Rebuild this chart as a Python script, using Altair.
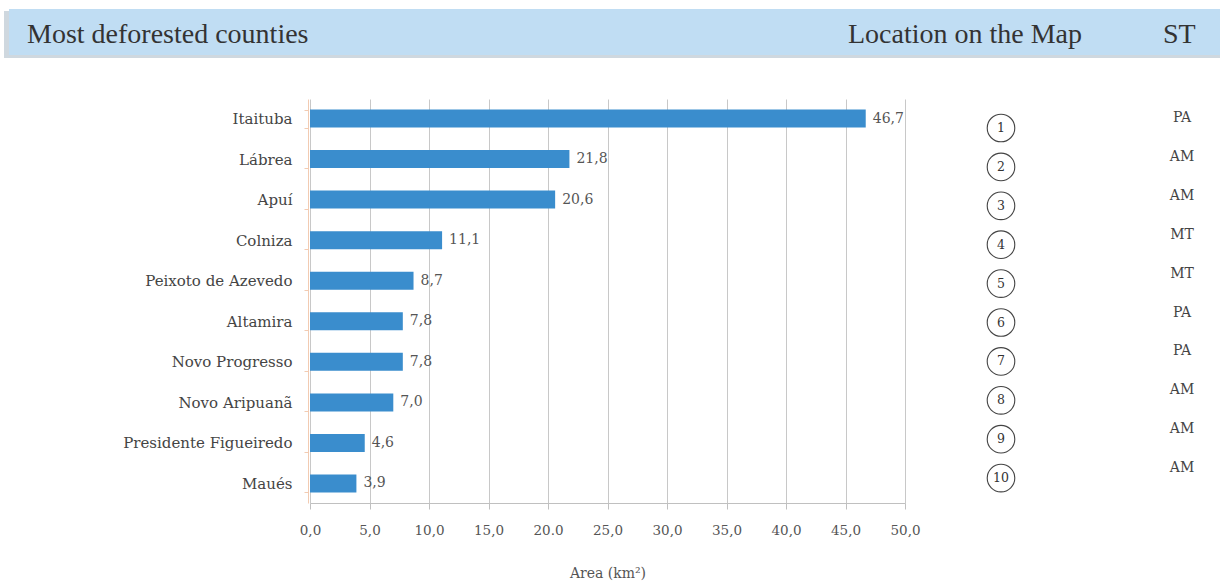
import altair as alt
import pandas as pd

counties = ["Itaituba", "Lábrea", "Apuí", "Colniza", "Peixoto de Azevedo",
            "Altamira", "Novo Progresso", "Novo Aripuanã", "Presidente Figueiredo", "Maués"]
area = [46.7, 21.8, 20.6, 11.1, 8.7, 7.8, 7.8, 7.0, 4.6, 3.9]
map_ids = [1, 2, 3, 4, 5, 6, 7, 8, 9, 10]
states = ["PA", "AM", "AM", "MT", "MT", "PA", "PA", "AM", "AM", "AM"]
x_ticks = [0, 5, 10, 15, 20, 25, 30, 35, 40, 45, 50]

title_text = "Most deforested counties"
col_map = "Location on the Map"
col_st = "ST"
x_title = "Area (km²)"

df = pd.DataFrame({"county": counties, "area": area, "id": map_ids, "st": states})
one = pd.DataFrame({"k": [0]})

SERIF = "DejaVu Serif"
HEAD = "Liberation Serif"

base = alt.Chart(df)

bars = base.mark_bar(color="#3a8dcd").encode(
    x=alt.X("area:Q",
            scale=alt.Scale(domain=[0, 50], nice=False),
            axis=alt.Axis(values=x_ticks,
                          labelExpr="datum.value == 20 ? '20.0' : replace(format(datum.value, '.1f'), '.', ',')",
                          grid=True, gridColor="#c8c8c8", gridWidth=1,
                          domainColor="#c0c0c0", tickColor="#c0c0c0", tickSize=6,
                          labelFlush=False,
                          labelFont=SERIF, labelFontSize=13.5, labelColor="#555555",
                          labelPadding=14,
                          title=x_title, titleFont=SERIF, titleFontSize=14,
                          titleFontWeight="normal", titleColor="#555555", titlePadding=30)),
    y=alt.Y("county:N", sort=counties,
            scale=alt.Scale(paddingInner=0.556, paddingOuter=0.259),
            axis=alt.Axis(title=None, grid=False, offset=2,
                          domainColor="#f2cbb2", tickColor="#f2cbb2", tickSize=4,
                          tickBand="extent",
                          labelFont=SERIF, labelFontSize=15, labelColor="#444444",
                          labelPadding=12)),
)

values = base.transform_calculate(
    lab="replace(format(datum.area, '.1f'), '.', ',')"
).mark_text(align="left", baseline="middle", dx=7, font=SERIF, fontSize=14,
            color="#555555").encode(
    x="area:Q",
    y=alt.Y("county:N", sort=counties),
    text="lab:N",
)

main = alt.layer(bars, values)

side_y = alt.Y("id:Q", scale=alt.Scale(domain=[0.2545, 10.64], reverse=True, nice=False, zero=False),
               axis=None)

circles = base.mark_point(shape="circle", filled=False, size=760, stroke="#444444",
                          strokeWidth=1.1, opacity=1).encode(
    x=alt.value(691), y=side_y)
circle_nums = base.mark_text(font=SERIF, fontSize=12.5, color="#333333",
                             baseline="middle").encode(
    x=alt.value(691), y=side_y, text="id:N")
st_text = base.mark_text(font=SERIF, fontSize=14, color="#444444", baseline="middle",
                         dy=-10).encode(
    x=alt.value(872), y=side_y, text="st:N")

side = alt.layer(circles, circle_nums, st_text)

hb = alt.Chart(one)
shadow = hb.mark_rect(color="#cfd8df").encode(
    x=alt.value(-306), x2=alt.value(910), y=alt.value(-88), y2=alt.value(-41))
band = hb.mark_rect(color="#c0ddf3").encode(
    x=alt.value(-301), x2=alt.value(910), y=alt.value(-90), y2=alt.value(-44))
t1 = hb.mark_text(text=title_text, font=HEAD, fontSize=28, color="#333333",
                  align="left", baseline="alphabetic").encode(
    x=alt.value(-283), y=alt.value(-56))
t2 = hb.mark_text(text=col_map, font=HEAD, fontSize=28, color="#333333",
                  align="left", baseline="alphabetic").encode(
    x=alt.value(538), y=alt.value(-56))
t3 = hb.mark_text(text=col_st, font=HEAD, fontSize=28, color="#333333",
                  align="left", baseline="alphabetic").encode(
    x=alt.value(853), y=alt.value(-56))
header = alt.layer(shadow, band, t1, t2, t3)

chart = alt.layer(header, main, side).resolve_scale(y="independent").properties(
    width=595, height=404,
    autosize=alt.AutoSizeParams(type="none"),
    padding={"left": 310, "top": 99, "right": 315, "bottom": 80},
).configure_view(stroke=None)

chart.save("out.html", embed_options={"renderer": "svg", "actions": False})
